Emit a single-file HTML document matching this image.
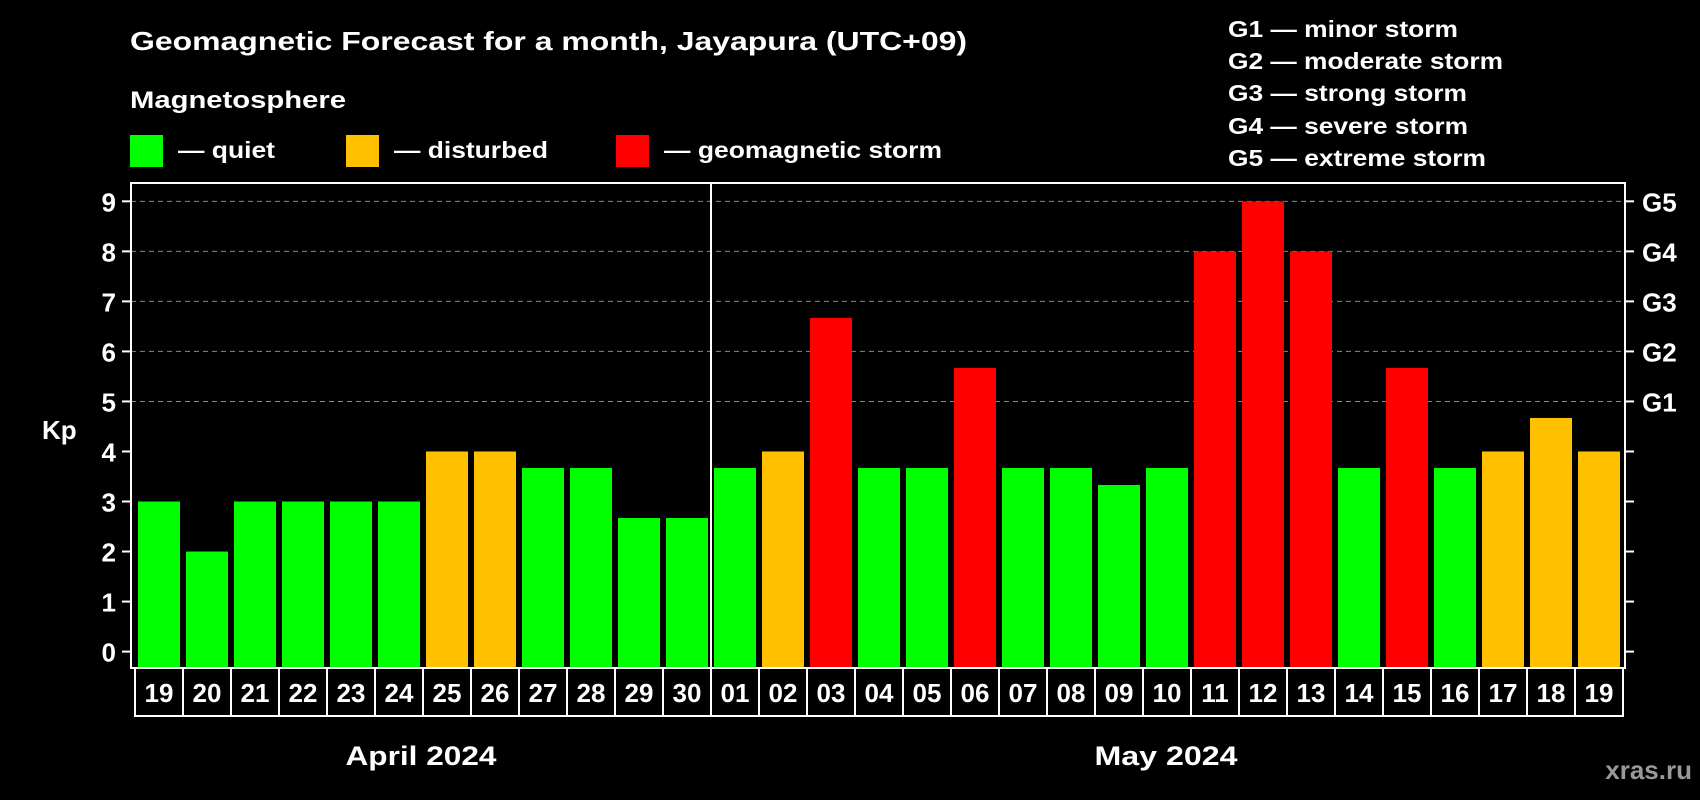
<!DOCTYPE html>
<html><head><meta charset="utf-8"><style>
html,body{margin:0;padding:0;background:#000;}
svg{display:block;font-family:"Liberation Sans",Arial,sans-serif;font-weight:bold;}
</style></head><body>
<svg id="chart" width="1700" height="800" viewBox="0 0 1700 800">
<text x="130" y="50" fill="#fff" font-size="26" textLength="837" lengthAdjust="spacingAndGlyphs">Geomagnetic Forecast for a month, Jayapura (UTC+09)</text>
<text x="130" y="108" fill="#fff" font-size="24" textLength="216" lengthAdjust="spacingAndGlyphs">Magnetosphere</text>
<g><rect x="130" y="135" width="33" height="32" fill="#00ff00"/><text x="178" y="158" fill="#fff" font-size="23" textLength="97" lengthAdjust="spacingAndGlyphs">— quiet</text></g>
<g><rect x="346" y="135" width="33" height="32" fill="#ffc000"/><text x="394" y="158" fill="#fff" font-size="23" textLength="154" lengthAdjust="spacingAndGlyphs">— disturbed</text></g>
<g><rect x="616" y="135" width="33" height="32" fill="#ff0000"/><text x="664" y="158" fill="#fff" font-size="23" textLength="278" lengthAdjust="spacingAndGlyphs">— geomagnetic storm</text></g>
<g fill="#fff" font-size="23" lengthAdjust="spacingAndGlyphs">
<text x="1228" y="37" textLength="230" lengthAdjust="spacingAndGlyphs">G1 — minor storm</text>
<text x="1228" y="69" textLength="275" lengthAdjust="spacingAndGlyphs">G2 — moderate storm</text>
<text x="1228" y="101" textLength="239" lengthAdjust="spacingAndGlyphs">G3 — strong storm</text>
<text x="1228" y="134" textLength="240" lengthAdjust="spacingAndGlyphs">G4 — severe storm</text>
<text x="1228" y="166" textLength="258" lengthAdjust="spacingAndGlyphs">G5 — extreme storm</text>
</g>
<text x="42" y="439" fill="#fff" font-size="26">Kp</text>
<text x="421" y="765" fill="#fff" font-size="27" text-anchor="middle" textLength="151" lengthAdjust="spacingAndGlyphs">April 2024</text>
<text x="1166" y="765" fill="#fff" font-size="27" text-anchor="middle" textLength="143" lengthAdjust="spacingAndGlyphs">May 2024</text>
<text x="1692" y="779" fill="#999" font-size="26" text-anchor="end">xras.ru</text>
<g id="plot"></g>
</svg>
<script>
const days = ["19","20","21","22","23","24","25","26","27","28","29","30","01","02","03","04","05","06","07","08","09","10","11","12","13","14","15","16","17","18","19"];
const kpValues = [3,2,3,3,3,3,4,4,3.67,3.67,2.67,2.67,3.67,4,6.67,3.67,3.67,5.67,3.67,3.67,3.33,3.67,8,9,8,3.67,5.67,3.67,4,4.67,4];
const yTicks = [0,1,2,3,4,5,6,7,8,9];
const gLabels = ["G1","G2","G3","G4","G5"];
const gLevels = [5,6,7,8,9];
const monthSplitIndex = 12;

const NS = "http://www.w3.org/2000/svg";
const plot = document.getElementById("plot");
const L = 131, R = 1625, T = 183, B = 668, colW = 48, col0 = 135;
const y = v => 651.6 - v * 50.03;
const x = i => col0 + i * colW;
function mk(tag, attrs) { const e = document.createElementNS(NS, tag); for (const k in attrs) e.setAttribute(k, attrs[k]); plot.appendChild(e); return e; }
function color(v) { return v >= 5 ? "#ff0000" : v >= 4 ? "#ffc000" : "#00ff00"; }

gLevels.forEach(v => {
  const g = mk("line", {x1: L, x2: R, y1: y(v), y2: y(v), stroke: "#888", "stroke-width": 1, "stroke-dasharray": "5,4"});
  
  
});
kpValues.forEach((v, i) => {
  const r = mk("rect", {x: x(i) + 3, y: y(v), width: 42, height: B - y(v), fill: color(v)});
  
  
});
const fr = mk("rect", {x: L, y: T, width: R - L, height: B - T, fill: "none", stroke: "#fff", "stroke-width": 2});


const sp = mk("line", {x1: x(monthSplitIndex), x2: x(monthSplitIndex), y1: T, y2: B, stroke: "#fff", "stroke-width": 2});


yTicks.forEach(v => {
  const t1 = mk("line", {x1: 122, x2: L, y1: y(v), y2: y(v), stroke: "#fff", "stroke-width": 2});
  
  
  const t2 = mk("line", {x1: R, x2: 1634, y1: y(v), y2: y(v), stroke: "#fff", "stroke-width": 2});
  
  
  const tl = mk("text", {x: 116, y: y(v) + 10, fill: "#fff", "font-size": 26, "text-anchor": "end"});
  tl.textContent = v;
  
  
});
gLabels.forEach((g, k) => {
  const t = mk("text", {x: 1642, y: y(gLevels[k]) + 10, fill: "#fff", "font-size": 26});
  t.textContent = g;
  
  
});
days.forEach((d, i) => {
  const b = mk("rect", {x: x(i), y: B, width: colW, height: 48, fill: "#000", stroke: "#fff", "stroke-width": 2});
  
  
  const t = mk("text", {x: x(i) + colW / 2, y: B + 34, fill: "#fff", "font-size": 26, "text-anchor": "middle"});
  t.textContent = d;
  
  
});
</script>
</body></html>
